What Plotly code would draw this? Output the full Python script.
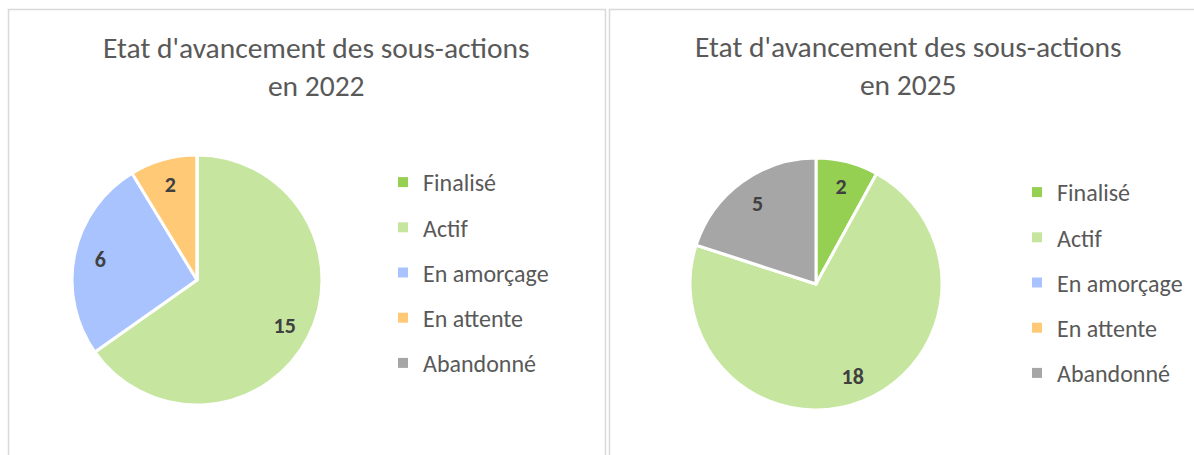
import plotly.graph_objects as go

W, H = 1194, 455

categories = ["Finalisé", "Actif", "En amorçage", "En attente", "Abandonné"]
values_2022 = [0, 15, 6, 2, 0]
values_2025 = [2, 18, 0, 0, 5]
colors = ["#96D053", "#C6E6A0", "#A8C3FE", "#FFC976", "#A6A6A6"]
titles = ["Etat d'avancement des sous-actions<br>en 2022",
          "Etat d'avancement des sous-actions<br>en 2025"]

FONT = "Carlito, Lato, sans-serif"

def px_x(x):
    return x / W

def px_y(y):
    return 1 - y / H

def pie_domain(cx, cy, r):
    return dict(x=[px_x(cx - r), px_x(cx + r)], y=[px_y(cy + r), px_y(cy - r)])

fig = go.Figure()

panels = [
    dict(values=values_2022, dom=pie_domain(197, 280, 125), legend="legend"),
    dict(values=values_2025, dom=pie_domain(816, 284, 126), legend="legend2"),
]

for k, p in enumerate(panels):
    vals = p["values"]
    fig.add_trace(go.Pie(
        labels=categories, values=vals, sort=False, direction="clockwise", rotation=0,
        marker=dict(colors=colors, line=dict(color="white", width=3)),
        textinfo="none", showlegend=False, domain=p["dom"], hoverinfo="label+value",
    ))
    fig.add_trace(go.Pie(
        labels=categories, values=vals, sort=False, direction="clockwise", rotation=0,
        hole=0.58,
        marker=dict(colors=["rgba(0,0,0,0)"] * len(vals), line=dict(width=0)),
        text=[f"<b>{v}</b>" if v else "" for v in vals], textinfo="text",
        textposition="inside", insidetextorientation="horizontal",
        textfont=dict(family=FONT, size=22, color="#404040"),
        showlegend=False, domain=p["dom"], hoverinfo="skip",
    ))
    for i, cat in enumerate(categories):
        fig.add_trace(go.Scatter(
            x=[None], y=[None], mode="markers", name=cat,
            marker=dict(symbol="square", size=10, color=colors[i]),
            legend=p["legend"], legendgroup=f"g{k}_{i}", showlegend=True,
        ))

legend_common = dict(
    font=dict(family=FONT, size=24, color="#595959"),
    traceorder="grouped", tracegroupgap=11, itemsizing="trace",
    bgcolor="rgba(0,0,0,0)", borderwidth=0,
    xanchor="left", yanchor="top",
)

fig.update_layout(
    width=W, height=H, margin=dict(l=0, r=0, t=0, b=0),
    paper_bgcolor="white", plot_bgcolor="white",
    xaxis=dict(visible=False), yaxis=dict(visible=False),
    legend=dict(x=px_x(383), y=px_y(160), **legend_common),
    legend2=dict(x=px_x(1017), y=px_y(170), **legend_common),
    shapes=[
        dict(type="rect", xref="paper", yref="paper",
             x0=px_x(8.5), x1=px_x(605.5), y0=-0.2, y1=px_y(9.5),
             line=dict(color="#D9D9D9", width=1.5)),
        dict(type="rect", xref="paper", yref="paper",
             x0=px_x(609.5), x1=1.2, y0=-0.2, y1=px_y(9.5),
             line=dict(color="#D9D9D9", width=1.5)),
    ],
    annotations=[
        dict(text=titles[0], x=px_x(316), y=px_y(67), xref="paper", yref="paper",
             showarrow=False, xanchor="center", yanchor="middle",
             font=dict(family=FONT, size=29.5, color="#595959")),
        dict(text=titles[1], x=px_x(908), y=px_y(66), xref="paper", yref="paper",
             showarrow=False, xanchor="center", yanchor="middle",
             font=dict(family=FONT, size=29.5, color="#595959")),
    ],
)

fig.write_html("out.html", config=dict(displayModeBar=False),
               post_script="document.body.style.margin='0';document.body.style.overflow='hidden';")
